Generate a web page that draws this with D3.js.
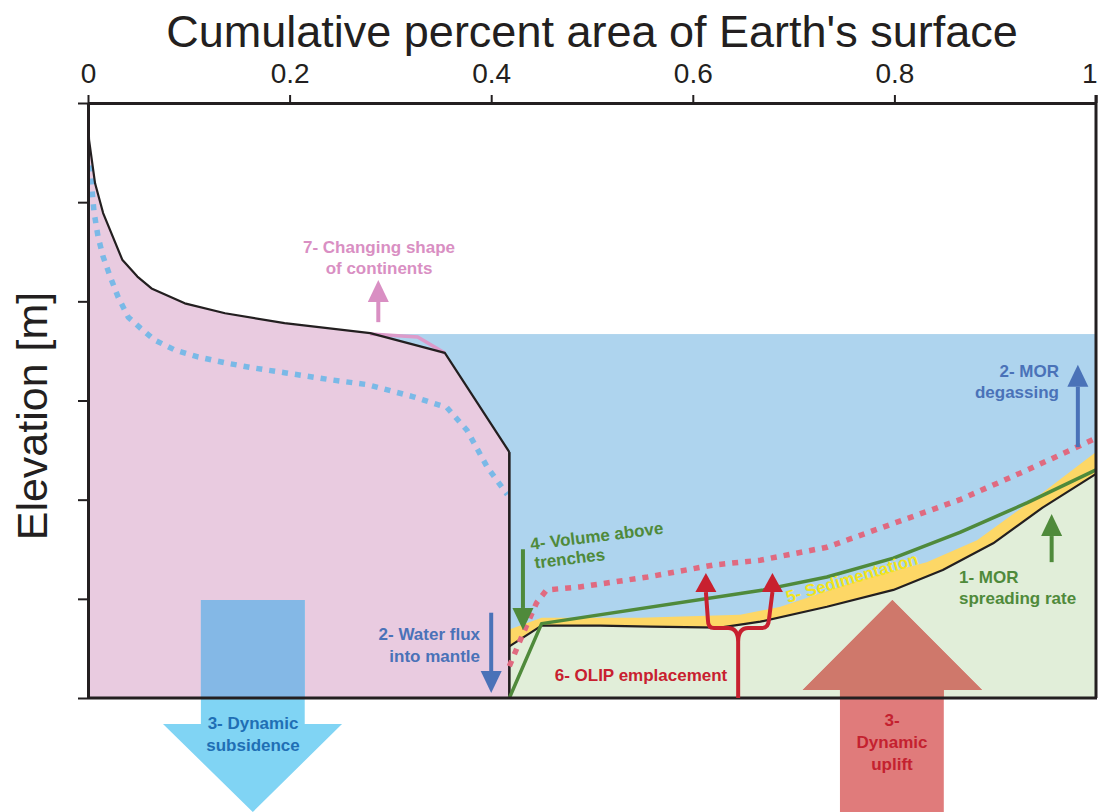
<!DOCTYPE html>
<html>
<head>
<meta charset="utf-8">
<script src="https://cdn.jsdelivr.net/npm/d3@7"></script>
<style>
  html, body { margin: 0; padding: 0; background: #fff; }
  svg { display: block; }
  text { font-family: "Liberation Sans", Arial, Helvetica, sans-serif; }
</style>
</head>
<body>
<svg id="chart" width="1098" height="812"></svg>
<script>
// ---- axes ----
const xTicks = [0, 0.2, 0.4, 0.6, 0.8, 1];
const xTickLabels = ["0", "0.2", "0.4", "0.6", "0.8", "1"];
const yTicks = [0, 1, 2, 3, 4, 5, 6];

// ---- hypsometric curves: [cumulative area fraction, elevation units] ----
const seaLevel = 3.67;
const continentNow = [
  [0, 6.00], [0.001, 5.63], [0.007, 5.19], [0.015, 4.89], [0.034, 4.42],
  [0.049, 4.25], [0.063, 4.13], [0.096, 3.98], [0.136, 3.88], [0.195, 3.78],
  [0.280, 3.68], [0.354, 3.48], [0.418, 2.48], [0.418, 0]
];
const continentAlt = [
  [0.002, 5.37], [0.004, 5.12], [0.006, 4.90], [0.010, 4.65], [0.015, 4.45],
  [0.022, 4.25], [0.030, 4.04], [0.040, 3.84], [0.052, 3.73], [0.066, 3.61],
  [0.086, 3.51], [0.109, 3.44], [0.136, 3.38], [0.163, 3.33], [0.195, 3.28],
  [0.240, 3.21], [0.277, 3.16], [0.322, 3.04], [0.356, 2.93], [0.376, 2.70],
  [0.396, 2.33], [0.416, 2.05]
];
const continentShape = [[0.280, 3.67], [0.327, 3.64], [0.354, 3.48]];
const seafloor = [
  [0.418, 0.52], [0.450, 0.73], [0.508, 0.73], [0.558, 0.72], [0.627, 0.71],
  [0.667, 0.77], [0.733, 0.92], [0.799, 1.09], [0.848, 1.29], [0.898, 1.56],
  [0.947, 1.92], [1.0, 2.26]
];
const sedimentTop = [
  [0.418, 0.69], [0.450, 0.81], [0.548, 0.81], [0.647, 0.84], [0.687, 0.92],
  [0.766, 1.19], [0.832, 1.37], [0.882, 1.59], [0.947, 2.07], [1.0, 2.48]
];
const spreadingFloor = [
  [0.418, 0], [0.450, 0.75], [0.670, 1.09], [0.733, 1.22], [0.799, 1.41],
  [0.865, 1.67], [0.932, 1.97], [1.0, 2.30]
];
const oceanAlt = [
  [0.418, 0.32], [0.432, 0.66], [0.445, 0.96], [0.455, 1.09], [0.488, 1.12],
  [0.555, 1.22], [0.620, 1.34], [0.667, 1.39], [0.733, 1.52], [0.799, 1.76],
  [0.865, 2.00], [0.932, 2.30], [1.0, 2.62]
];

// ---- process arrows: x, base elevation, tip elevation ----
const arrowX    = [0.288, 0.400, 0.4315, 0.982, 0.956];
const arrowBase = [3.79, 0.86, 1.50, 2.53, 1.37];
const arrowTip  = [4.215, 0.05, 0.686, 3.36, 1.855];

// OLIP forked arrow: stem x, fork level, branch x's, tip level
const olipStemX = 0.645, olipFork = 0.706, olipBranchX = [0.615, 0.675], olipTipX = [0.613, 0.679], olipTip = 1.26;

// dynamic topography block arrows
const subsidenceShaft = [0.112, 0.215], subsidenceTop = 0.988, subsidenceHead = [0.0744, 0.252], subsidenceHeadBase = -0.262, subsidenceTip = -1.15;
const upliftShaft = [0.746, 0.849], upliftBottom = -1.15, upliftHead = [0.709, 0.887], upliftHeadBase = 0.081, upliftTip = 0.988;

// ---- layout ----
const svg = d3.select("#chart");
const x = d3.scaleLinear().domain([0, 1]).range([88, 1096]);
const y = d3.scaleLinear().domain([0, 6]).range([698, 103]);

const C = {
  ink: "#231f20", land: "#e9cbe0", sea: "#aed4ee", crust: "#e1eed9", sed: "#fdd766",
  green: "#4f8a3b", blueDot: "#7ab9e7", redDot: "#e06a80", pinkLine: "#dc9bca",
  pinkText: "#d98fc3", blueText: "#4a72b8", red: "#c8202f"
};

const line = d3.line().x(d => x(d[0])).y(d => y(d[1]));

// ocean water
svg.append("rect").attr("x", x(0.28)).attr("y", y(seaLevel))
  .attr("width", x(1) - x(0.28)).attr("height", y(0) - y(seaLevel)).attr("fill", C.sea);

// continents
svg.append("path").datum(continentNow)
  .attr("d", d3.area().x(d => x(d[0])).y0(y(0)).y1(d => y(d[1])))
  .attr("fill", C.land);

// oceanic crust
svg.append("path").datum(seafloor)
  .attr("d", d3.area().x(d => x(d[0])).y0(y(0)).y1(d => y(d[1])))
  .attr("fill", C.crust);

// sediment blanket
svg.append("path")
  .attr("d", line(sedimentTop.concat(seafloor.slice().reverse())) + "Z")
  .attr("fill", C.sed);

// dynamic topography block arrows (clipped recolour inside the plot frame)
svg.append("defs").append("clipPath").attr("id", "plotClip")
  .append("rect").attr("x", x(0)).attr("y", y(6)).attr("width", x(1) - x(0)).attr("height", y(0) - y(6));

function blockDown() {
  return [
    [x(subsidenceShaft[0]), y(subsidenceTop)], [x(subsidenceShaft[1]), y(subsidenceTop)],
    [x(subsidenceShaft[1]), y(subsidenceHeadBase)], [x(subsidenceHead[1]), y(subsidenceHeadBase)],
    [x((subsidenceShaft[0] + subsidenceShaft[1]) / 2), y(subsidenceTip)],
    [x(subsidenceHead[0]), y(subsidenceHeadBase)], [x(subsidenceShaft[0]), y(subsidenceHeadBase)]
  ];
}
function blockUp() {
  return [
    [x(upliftShaft[0]), y(upliftBottom)], [x(upliftShaft[1]), y(upliftBottom)],
    [x(upliftShaft[1]), y(upliftHeadBase)], [x(upliftHead[1]), y(upliftHeadBase)],
    [x((upliftHead[0] + upliftHead[1]) / 2), y(upliftTip)],
    [x(upliftHead[0]), y(upliftHeadBase)], [x(upliftShaft[0]), y(upliftHeadBase)]
  ];
}
const poly = pts => "M" + pts.map(p => p.join(",")).join("L") + "Z";
svg.append("path").attr("d", poly(blockDown())).attr("fill", "#80d4f4");
svg.append("path").attr("d", poly(blockDown())).attr("fill", "#84b8e6").attr("clip-path", "url(#plotClip)");
svg.append("path").attr("d", poly(blockUp())).attr("fill", "#e07b7b");
svg.append("path").attr("d", poly(blockUp())).attr("fill", "#cf786b").attr("clip-path", "url(#plotClip)");

// alternative hypsometries
svg.append("path").datum(continentAlt).attr("d", line).attr("fill", "none")
  .attr("stroke", C.blueDot).attr("stroke-width", 5.5).attr("stroke-dasharray", "6 7");
svg.append("path").datum(continentShape).attr("d", line).attr("fill", "none")
  .attr("stroke", C.pinkLine).attr("stroke-width", 3.5);

// present-day hypsometry
svg.append("path").datum(continentNow.slice(0, -1)).attr("d", line).attr("fill", "none")
  .attr("stroke", C.ink).attr("stroke-width", 2.2).attr("stroke-linejoin", "round");
svg.append("path").datum(continentNow.slice(-2)).attr("d", line).attr("fill", "none")
  .attr("stroke", C.ink).attr("stroke-width", 2.6);
svg.append("path").datum(seafloor).attr("d", line).attr("fill", "none")
  .attr("stroke", C.ink).attr("stroke-width", 2.2).attr("stroke-linejoin", "round");

svg.append("path").datum(spreadingFloor).attr("d", line).attr("fill", "none")
  .attr("stroke", C.green).attr("stroke-width", 3.5).attr("stroke-linejoin", "round");
svg.append("path").datum(oceanAlt).attr("d", line).attr("fill", "none")
  .attr("stroke", C.redDot).attr("stroke-width", 5.5).attr("stroke-dasharray", "6 7");

// ---- axes ----
const topAxis = d3.axisTop(x).tickValues(xTicks).tickFormat((d, i) => xTickLabels[i])
  .tickSizeInner(8).tickSizeOuter(0).tickPadding(12);
const gTop = svg.append("g").attr("transform", `translate(0,${y(6)})`).call(topAxis);
gTop.select(".domain").attr("stroke", C.ink).attr("stroke-width", 3);
gTop.selectAll(".tick line").attr("stroke", C.ink).attr("stroke-width", 2);
gTop.selectAll(".tick text").attr("font-size", 28).attr("fill", C.ink)
  .style("font-family", "'Liberation Sans', Arial, sans-serif");
// last label sits against the right edge of the page
gTop.selectAll(".tick text").filter(d => d === 1).attr("text-anchor", "end").attr("x", 1);

const leftAxis = d3.axisLeft(y).tickValues(yTicks).tickFormat("").tickSizeInner(10).tickSizeOuter(0);
const gLeft = svg.append("g").attr("transform", `translate(${x(0)},0)`).call(leftAxis);
gLeft.select(".domain").attr("stroke", C.ink).attr("stroke-width", 3);
gLeft.selectAll(".tick line").attr("stroke", C.ink).attr("stroke-width", 2);

// frame: bottom and right edges
svg.append("line").attr("x1", x(0)).attr("x2", x(1) + 1).attr("y1", y(0)).attr("y2", y(0))
  .attr("stroke", C.ink).attr("stroke-width", 3);
svg.append("line").attr("x1", x(1)).attr("x2", x(1)).attr("y1", y(6) - 8).attr("y2", y(0))
  .attr("stroke", C.ink).attr("stroke-width", 3);

svg.append("text").attr("x", 592).attr("y", 47).attr("text-anchor", "middle")
  .attr("font-size", 45).attr("fill", C.ink).text("Cumulative percent area of Earth's surface");
svg.append("text").attr("transform", "translate(47,416) rotate(-90)").attr("text-anchor", "middle")
  .attr("font-size", 43).attr("fill", C.ink).text("Elevation [m]");

// ---- process arrows ----
const arrowColors = [C.pinkText, C.blueText, C.green, C.blueText, C.green];
arrowX.forEach((ax, i) => {
  const px = x(ax), pb = y(arrowBase[i]), pt = y(arrowTip[i]);
  const dir = pt < pb ? 1 : -1;      // 1 = pointing up
  const headBase = pt + dir * 22;
  svg.append("line").attr("x1", px).attr("x2", px).attr("y1", pb).attr("y2", headBase)
    .attr("stroke", arrowColors[i]).attr("stroke-width", 4);
  svg.append("path").attr("d", `M${px},${pt}L${px + 10.5},${headBase}L${px - 10.5},${headBase}Z`)
    .attr("fill", arrowColors[i]);
});

// OLIP emplacement forked arrow
{
  const sx = x(olipStemX), fy = y(olipFork), by = y(0), ty = y(olipTip);
  const lx = x(olipBranchX[0]), rx = x(olipBranchX[1]);
  const ltx = x(olipTipX[0]), rtx = x(olipTipX[1]);
  const hb = ty + 19;
  const d = `M${sx},${by}L${sx},${fy + 14}Q${sx},${fy} ${sx - 10},${fy}L${lx + 6},${fy}Q${lx},${fy} ${lx},${fy - 8}L${ltx},${hb}` +
            `M${sx},${fy + 14}Q${sx},${fy} ${sx + 10},${fy}L${rx - 6},${fy}Q${rx},${fy} ${rx + 0.5},${fy - 8}L${rtx},${hb}`;
  svg.append("path").attr("d", d).attr("fill", "none").attr("stroke", C.red).attr("stroke-width", 4)
    .attr("stroke-linejoin", "round");
  [ltx, rtx].forEach(tx => {
    svg.append("path").attr("d", `M${tx},${ty}L${tx + 10.5},${hb}L${tx - 10.5},${hb}Z`).attr("fill", C.red);
  });
}

// ---- labels ----
function label(lines, px, py, color, anchor, lh, rot) {
  const g = svg.append("g").attr("transform", `translate(${px},${py})` + (rot ? ` rotate(${rot})` : ""));
  lines.forEach((t, i) => {
    g.append("text").attr("x", t.dx || 0).attr("y", i * lh).attr("text-anchor", anchor)
      .attr("font-size", 17).attr("font-weight", "bold").attr("fill", color).text(t.s);
  });
}
label([{ s: "7- Changing shape" }, { s: "of continents" }], 379, 253, C.pinkText, "middle", 21);
label([{ s: "2- MOR" }, { s: "degassing" }], 1059, 377, C.blueText, "end", 21);
label([{ s: "2- Water flux" }, { s: "into mantle" }], 480, 640, C.blueText, "end", 22);
label([{ s: "4- Volume above" }, { s: "trenches", dx: 2 }], 531, 550, C.green, "start", 19, -7);
label([{ s: "6- OLIP emplacement" }], 641, 681, C.red, "middle", 20);
label([{ s: "5- Sedimentation" }], 788, 603, "#f3e31c", "start", 20, -16.5);
label([{ s: "1- MOR" }, { s: "spreading rate" }], 959, 583, C.green, "start", 21);
label([{ s: "3- Dynamic" }, { s: "subsidence" }], 253, 729, "#1f6fb5", "middle", 22);
label([{ s: "3-" }, { s: "Dynamic" }, { s: "uplift" }], 892, 726, "#c4212f", "middle", 22);
</script>
</body>
</html>
